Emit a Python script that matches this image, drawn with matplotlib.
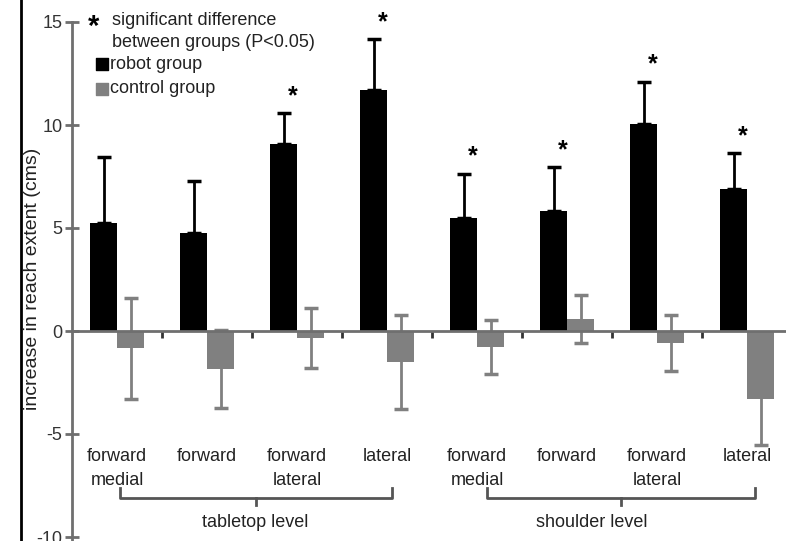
import numpy as np
import matplotlib
matplotlib.use("Agg")
import matplotlib.pyplot as plt
from matplotlib.lines import Line2D

plt.rcParams['font.family'] = ['Liberation Sans', 'DejaVu Sans']

# data
categories = ["forward\nmedial", "forward", "forward\nlateral", "lateral",
              "forward\nmedial", "forward", "forward\nlateral", "lateral"]
robot_mean = [5.24, 4.76, 9.08, 11.7, 5.5, 5.83, 10.05, 6.9]
robot_err = [3.21, 2.5, 1.5, 2.47, 2.13, 2.13, 2.05, 1.74]
control_mean = [-0.83, -1.84, -0.34, -1.5, -0.78, 0.58, -0.58, -3.3]
control_err = [2.45, 1.9, 1.46, 2.3, 1.3, 1.16, 1.36, 2.23]
significant = [False, False, True, True, True, True, True, True]
groups = ["tabletop level", "shoulder level"]
yticks = [-10, -5, 0, 5, 10, 15]

W, H = 786, 541
FS = 13
txt_col = '#222222'
fig = plt.figure(figsize=(W / 100, H / 100), dpi=100)
ax = fig.add_axes([72 / W, 0, 1 - 72 / W, 1 - 22 / H])

x = np.arange(len(categories))
bw = 0.3
axis_col = '#6f6f6f'

ax.bar(x - bw / 2, robot_mean, width=bw, color='black', zorder=3)
ax.bar(x + bw / 2, control_mean, width=bw, color='#808080', zorder=3)
ax.errorbar(x - bw / 2, robot_mean, yerr=[np.zeros(len(x)), robot_err],
            fmt='none', ecolor='black', elinewidth=2, capsize=5, capthick=2.5, zorder=4)
ax.errorbar(x + bw / 2, control_mean, yerr=control_err,
            fmt='none', ecolor='#808080', elinewidth=2, capsize=5, capthick=2.5, zorder=2)

# significance stars
for i in range(len(x)):
    if significant[i]:
        top = robot_mean[i] + robot_err[i]
        ax.text(x[i] - 0.05, top + 0.25, '*', fontsize=18, ha='center', va='bottom',
                fontweight='bold')

ax.set_xlim(-0.5, -0.5 + (W - 72) / 90)
ax.set_ylim(-(H - 331) / 20.6, 15)

for s in ['top', 'right']:
    ax.spines[s].set_visible(False)
ax.spines['left'].set_color(axis_col)
ax.spines['left'].set_linewidth(2)
ax.spines['bottom'].set_position(('data', 0))
ax.spines['bottom'].set_color(axis_col)
ax.spines['bottom'].set_linewidth(2)
ax.spines['bottom'].set_zorder(5)

ax.set_yticks(yticks)
ax.set_yticklabels([str(t) for t in yticks], fontsize=FS, color='#333333')
ax.tick_params(axis='y', direction='inout', length=10, width=2, color=axis_col, pad=2)
ax.set_xticks(x[:-1] + 0.5)
ax.set_xticklabels([])
ax.tick_params(axis='x', direction='out', length=5, width=2, color='#333333')

# category labels
for i, lab in enumerate(categories):
    ax.text(x[i], -5.7, lab, fontsize=FS, ha='center', va='top', color=txt_col,
            linespacing=1.5)

# brackets under the categories
ybr_top, ybr_bot = -7.6, -8.1
for g, (a, b) in enumerate([(0.03, 3.06), (4.11, 7.09)]):
    ax.plot([a, a, b, b], [ybr_top, ybr_bot, ybr_bot, ybr_top], color='#555555',
            lw=2, clip_on=False)
    mid = (a + b) / 2
    ax.plot([mid, mid], [ybr_bot, ybr_bot - 0.35], color='#555555', lw=2, clip_on=False)
ax.text(1.54, -9.3, groups[0], fontsize=FS, ha='center', va='center', color=txt_col)
ax.text(5.27, -9.3, groups[1], fontsize=FS, ha='center', va='center', color=txt_col)

# legend drawn by hand
ax.text(-0.26, 14.75, '*', fontsize=21, ha='center', va='center', fontweight='bold')
ax.text(-0.05, 15.05, 'significant difference', fontsize=FS, va='center', color=txt_col)
ax.text(-0.05, 14.0, 'between groups (P<0.05)', fontsize=FS, va='center', color=txt_col)
ax.scatter([-0.17], [12.95], marker='s', s=85, color='black', clip_on=False)
ax.text(-0.08, 12.95, 'robot group', fontsize=FS, va='center', color=txt_col)
ax.scatter([-0.17], [11.75], marker='s', s=85, color='#808080', clip_on=False)
ax.text(-0.08, 11.75, 'control group', fontsize=FS, va='center', color=txt_col)

fig.text(33 / W, 1 - 279 / H, 'increase in reach extent (cms)', rotation=90,
         fontsize=14, ha='center', va='center', color=txt_col)

# dark border line at the left of the picture
fig.add_artist(Line2D([21 / W, 21 / W], [0, 1], color='black', lw=2))

fig.savefig('out.png', dpi=100)
